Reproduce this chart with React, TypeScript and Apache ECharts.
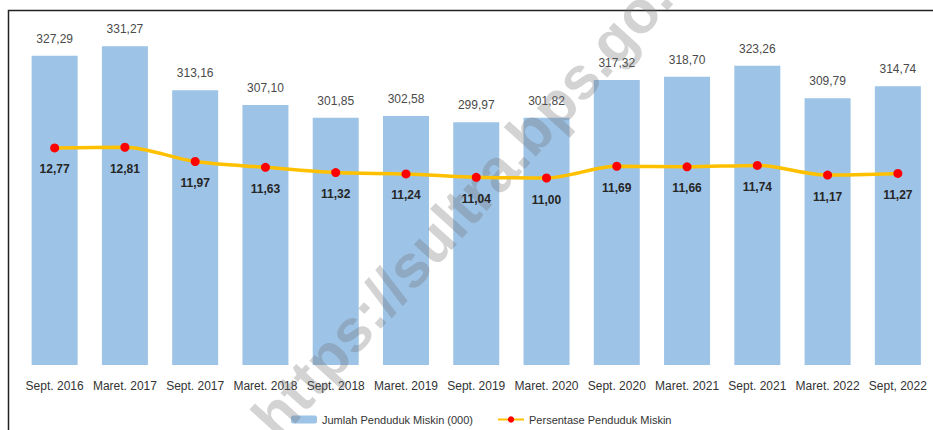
import React, { useEffect, useRef } from "react";
import * as echarts from "echarts";

const categories = [
  "Sept. 2016", "Maret. 2017", "Sept. 2017", "Maret. 2018", "Sept. 2018",
  "Maret. 2019", "Sept. 2019", "Maret. 2020", "Sept. 2020", "Maret. 2021",
  "Sept. 2021", "Maret. 2022", "Sept, 2022",
];
const jumlahMiskin = [
  327.29, 331.27, 313.16, 307.1, 301.85, 302.58, 299.97, 301.82, 317.32, 318.7,
  323.26, 309.79, 314.74,
];
const persentaseMiskin = [
  12.77, 12.81, 11.97, 11.63, 11.32, 11.24, 11.04, 11.0, 11.69, 11.66, 11.74,
  11.17, 11.27,
];

const FONT = "'Liberation Sans', sans-serif";
const fmt = (v: number) => v.toFixed(2).replace(".", ",");

export default function App() {
  const ref = useRef<HTMLDivElement>(null);
  useEffect(() => {
    document.body.style.margin = "0";
    if (!ref.current) return;
    const chart = echarts.init(ref.current, undefined, { renderer: "svg" });
    chart.setOption({
      animation: false,
      backgroundColor: "#ffffff",
      textStyle: { fontFamily: FONT },
      grid: { left: 19.5, top: 25, width: 922, height: 340 },
      legend: {
        left: 286,
        top: 409,
        itemWidth: 26,
        itemHeight: 8,
        itemGap: 24,
        textStyle: { fontFamily: FONT, fontSize: 11, color: "#333333" },
        data: ["Jumlah Penduduk Miskin (000)", "Persentase Penduduk Miskin"],
      },
      xAxis: {
        type: "category",
        data: categories,
        axisLine: { show: false },
        axisTick: { show: false },
        axisLabel: {
          margin: 15,
          fontFamily: FONT,
          fontSize: 12,
          color: "#333333",
          interval: 0,
        },
      },
      yAxis: [
        { type: "value", min: 200, max: 340, show: false },
        { type: "value", min: 0, max: 20, show: false },
      ],
      graphic: [
        {
          type: "rect",
          shape: { x: 8.5, y: 10.5, width: 1000, height: 600 },
          style: { fill: "none", stroke: "#222222", lineWidth: 1.5 },
          silent: true,
          z: 1,
        },
        {
          type: "text",
          x: 480,
          y: 188,
          rotation: (48 * Math.PI) / 180,
          z: 10,
          silent: true,
          style: {
            text: "https://sultra.bps.go.id",
            font: "bold 60px 'Liberation Sans', sans-serif",
            fill: "rgba(110,110,110,0.3)",
            align: "center",
            verticalAlign: "middle",
          },
        },
      ],
      series: [
        {
          name: "Jumlah Penduduk Miskin (000)",
          type: "bar",
          data: jumlahMiskin,
          barWidth: 46,
          itemStyle: { color: "#9DC3E6" },
          z: 2,
          label: {
            show: true,
            position: "top",
            distance: 11,
            fontFamily: FONT,
            fontSize: 12,
            color: "#4a4a4a",
            formatter: (p: any) => fmt(p.value),
          },
        },
        {
          name: "Persentase Penduduk Miskin",
          type: "line",
          yAxisIndex: 1,
          data: persentaseMiskin,
          smooth: 0.3,
          symbol: "circle",
          symbolSize: 9,
          z: 20,
          lineStyle: { color: "#FFC000", width: 3.5 },
          itemStyle: { color: "#FF0000" },
          label: {
            show: true,
            position: "bottom",
            distance: 11,
            fontFamily: FONT,
            fontSize: 12,
            fontWeight: "bold",
            color: "#262626",
            formatter: (p: any) => fmt(p.value),
          },
        },
      ],
    });
    return () => chart.dispose();
  }, []);
  return <div ref={ref} style={{ width: 933, height: 430 }} />;
}
